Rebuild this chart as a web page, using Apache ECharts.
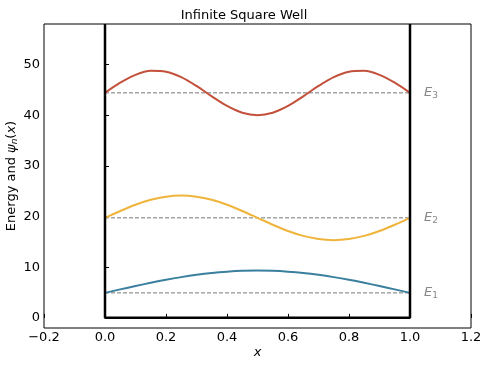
<!DOCTYPE html>
<html>
<head>
<meta charset="utf-8">
<script src="https://cdn.jsdelivr.net/npm/echarts@6/dist/echarts.min.js"></script>
<style>
  html, body { margin: 0; padding: 0; background: #fff; }
  #chart { width: 488px; height: 368px; }
</style>
</head>
<body>
<div id="chart"></div>
<script>
// positions along the well
var xs = [0, 0.05, 0.1, 0.15, 0.2, 0.25, 0.3, 0.35, 0.4, 0.45, 0.5,
          0.55, 0.6, 0.65, 0.7, 0.75, 0.8, 0.85, 0.9, 0.95, 1];
// energy levels E1..E3
var levels = [4.93, 19.74, 44.41];
// E_n + psi_n(x)
var psi1 = [4.93, 5.62, 6.29, 6.93, 7.52, 8.04, 8.49, 8.85, 9.11, 9.28, 9.33,
            9.28, 9.11, 8.85, 8.49, 8.04, 7.52, 6.93, 6.29, 5.62, 4.93];
var psi2 = [19.74, 21.10, 22.33, 23.30, 23.92, 24.14, 23.92, 23.30, 22.33, 21.10, 19.74,
            18.38, 17.15, 16.18, 15.56, 15.34, 15.56, 16.18, 17.15, 18.38, 19.74];
var psi3 = [44.41, 46.41, 47.97, 48.76, 48.59, 47.52, 45.77, 43.72, 41.82, 40.49, 40.01,
            40.49, 41.82, 43.72, 45.77, 47.52, 48.59, 48.76, 47.97, 46.41, 44.41];
var colors = ['#3b7f9e', '#efb43b', '#c2503b'];
var yTicks = [0, 10, 20, 30, 40, 50];

var font = 'DejaVu Sans';

function pairs(ys) {
    return xs.map(function (x, i) { return [x, ys[i]]; });
}

var series = [];

// well walls
series.push({
    type: 'line',
    data: [[0, 58], [0, 0], [1, 0], [1, 58]],
    symbol: 'none',
    lineStyle: { color: '#000', width: 2.5 },
    z: 5,
    silent: true
});

// dashed energy levels with E_n labels at the right end
levels.forEach(function (e, i) {
    series.push({
        type: 'line',
        data: [[0, e], [1, e]],
        symbol: 'none',
        lineStyle: { color: '#777', width: 1, type: [4, 2] },
        endLabel: {
            show: true,
            distance: 14,
            formatter: '{i|E}{s|' + (i + 1) + '}',
            rich: {
                i: { fontFamily: font, fontStyle: 'italic', fontSize: 13, color: '#888' },
                s: { fontFamily: font, fontSize: 9, color: '#888', verticalAlign: 'bottom', padding: [6, 0, 0, 0] }
            }
        },
        z: 2,
        silent: true
    });
});

[psi1, psi2, psi3].forEach(function (ys, i) {
    series.push({
        type: 'line',
        data: pairs(ys),
        smooth: 0.3,
        symbol: 'none',
        lineStyle: { color: colors[i], width: 2 },
        z: 3
    });
});

var chart = echarts.init(document.getElementById('chart'));
chart.setOption({
    animation: false,
    title: {
        text: 'Infinite Square Well',
        left: 'center',
        top: 4,
        textStyle: { fontFamily: font, fontSize: 13, fontWeight: 'normal', color: '#000' }
    },
    grid: {
        left: 44, right: 17, top: 24, bottom: 40,
        outerBoundsMode: 'none',
        containLabel: false,
        show: true, borderColor: '#000', borderWidth: 1
    },
    xAxis: {
        type: 'value',
        min: -0.2, max: 1.2, interval: 0.2,
        name: 'x',
        nameLocation: 'middle',
        nameGap: 18,
        nameMoveOverlap: false,
        nameTextStyle: { fontFamily: font, fontStyle: 'italic', fontSize: 13, color: '#000' },
        axisLine: { show: false },
        axisTick: { show: true, inside: true, length: 4, lineStyle: { color: '#000' } },
        splitLine: { show: false },
        axisLabel: {
            fontFamily: font, fontSize: 13, color: '#000', margin: 3,
            formatter: function (v) { return v.toFixed(1).replace('-', '\u2212'); }
        }
    },
    yAxis: {
        type: 'value',
        min: -2, max: 58,
        name: '{n|Energy and }{i|ψ}{s|n}{n|(}{i|x}{n|)}',
        nameLocation: 'middle',
        nameGap: 25,
        nameRotate: 90,
        nameMoveOverlap: false,
        nameTextStyle: {
            rich: {
                n: { fontFamily: font, fontSize: 13, color: '#000' },
                i: { fontFamily: font, fontStyle: 'italic', fontSize: 13, color: '#000' },
                s: { fontFamily: font, fontStyle: 'italic', fontSize: 9, color: '#000', verticalAlign: 'bottom', padding: [6, 0, 0, 0] }
            }
        },
        axisLine: { show: false },
        axisTick: { show: true, inside: true, length: 4, customValues: yTicks, lineStyle: { color: '#000' } },
        splitLine: { show: false },
        axisLabel: { fontFamily: font, fontSize: 13, color: '#000', margin: 4, customValues: yTicks }
    },
    series: series
});
</script>
</body>
</html>
